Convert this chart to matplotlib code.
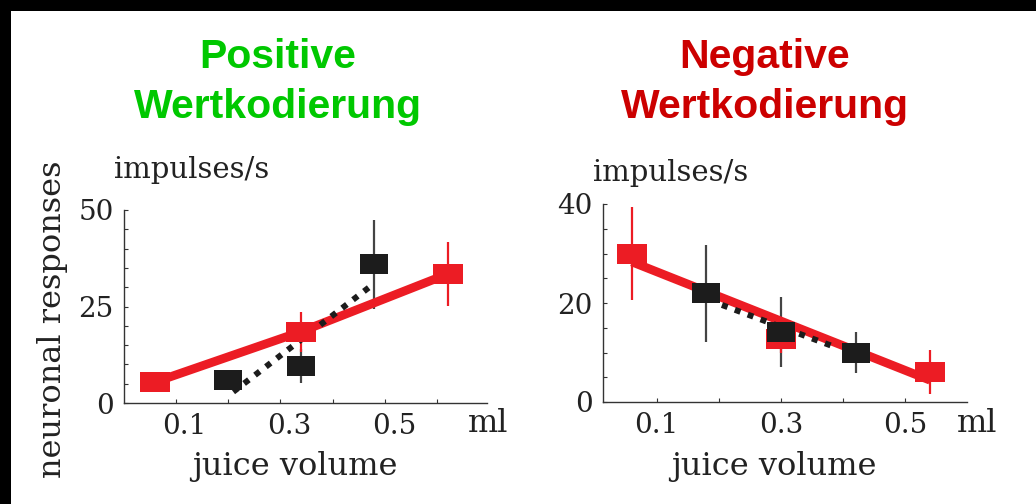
import matplotlib.pyplot as plt
from matplotlib.patches import Rectangle
from matplotlib.transforms import ScaledTranslation

# Datos (impulsos/s frente a volumen de zumo en ml)
# Panel izquierdo: codificación positiva
pos_red_x = [0.06, 0.34, 0.62]
pos_red_y = [5.4, 18.5, 33.4]
pos_red_err = [1.5, 5.2, 8.2]
pos_black_x = [0.20, 0.34, 0.48]
pos_black_y = [6.0, 9.6, 35.9]
pos_black_err = [1.5, 4.5, 11.5]
pos_fit_x = [0.21, 0.48]
pos_fit_y = [2.9, 31.0]

# Panel derecho: codificación negativa
neg_red_x = [0.06, 0.30, 0.54]
neg_red_y = [30.0, 12.8, 6.1]
neg_red_err = [9.3, 3.0, 4.5]
neg_red_fit_x = [0.06, 0.54]
neg_red_fit_y = [28.3, 4.4]
neg_black_x = [0.18, 0.30, 0.42]
neg_black_y = [22.0, 14.2, 10.0]
neg_black_err = [9.8, 7.1, 4.2]
neg_fit_x = [0.205, 0.385]
neg_fit_y = [19.6, 11.2]

pos_xticks = [0.1, 0.2, 0.3, 0.4, 0.5, 0.6]
pos_xlabels = ['0.1', '', '0.3', '', '0.5', '']
neg_xticks = [0.1, 0.2, 0.3, 0.4, 0.5]
neg_xlabels = ['0.1', '', '0.3', '', '0.5']
pos_yticks = [0, 25, 50]
neg_yticks = [0, 20, 40]

RED = '#ec1c24'
BLACK = '#1c1c1c'
W, H = 1036, 504

plt.rcParams['font.family'] = 'DejaVu Serif'

# marcador rectangular (más ancho que alto)
rect = [(-1.4, -1), (1.4, -1), (1.4, 1), (-1.4, 1), (-1.4, -1)]


def fx(px):
    return px / W


def fy(py):
    return 1 - py / H


fig = plt.figure(figsize=(W / 100, H / 100), dpi=100, facecolor='black')
# marco negro arriba y a la izquierda
fig.patches.append(Rectangle((fx(11), 0), 1, 1 - 11 / H, transform=fig.transFigure,
                             facecolor='white', edgecolor='none', zorder=-10))

ax1 = fig.add_axes([fx(123.5), 101 / H, 363.2 / W, 193 / H])
ax2 = fig.add_axes([fx(602.7), 102 / H, 364 / W, 198 / H])


def style(ax, xticks, xlabels, yticks, ystep):
    for s in ['top', 'right']:
        ax.spines[s].set_visible(False)
    for s in ['left', 'bottom']:
        ax.spines[s].set_linewidth(1.0)
        ax.spines[s].set_color('#333333')
    ax.set_xticks(xticks, xlabels)
    ax.set_yticks(yticks)
    ax.set_yticks([v for v in range(0, yticks[-1] + 1, ystep)], minor=True)
    ax.tick_params(which='both', direction='in', length=3, width=0.8,
                   color='#333333', labelsize=20, labelcolor='#222222')
    ax.tick_params(axis='x', pad=7)
    ax.tick_params(axis='y', pad=7)
    ax.set_facecolor('white')


def draw(ax, rx, ry, rerr, lx, ly, bx, by, berr, fx_, fy_):
    ax.errorbar(bx, by, yerr=berr, fmt='none', ecolor='#444444', elinewidth=1.6,
                capsize=0, zorder=1)
    ax.errorbar(rx, ry, yerr=rerr, fmt='none', ecolor=RED, elinewidth=1.6,
                capsize=0, zorder=1)
    ax.plot(lx, ly, color=RED, lw=6.3, solid_capstyle='butt', zorder=2)
    ax.plot(fx_, fy_, color=BLACK, lw=4.3, linestyle=(0, (1, 1.3)),
            dash_capstyle='butt', zorder=3)
    ax.plot(rx, ry, linestyle='none', marker=rect, markersize=21,
            markerfacecolor=RED, markeredgewidth=0, zorder=4)
    ax.plot(bx, by, linestyle='none', marker=rect, markersize=20.5,
            markerfacecolor=BLACK, markeredgewidth=0, zorder=5)


draw(ax1, pos_red_x, pos_red_y, pos_red_err, pos_red_x, pos_red_y,
     pos_black_x, pos_black_y, pos_black_err, pos_fit_x, pos_fit_y)
draw(ax2, neg_red_x, neg_red_y, neg_red_err, neg_red_fit_x, neg_red_fit_y,
     neg_black_x, neg_black_y, neg_black_err, neg_fit_x, neg_fit_y)

style(ax1, pos_xticks, pos_xlabels, pos_yticks, 5)
style(ax2, neg_xticks, neg_xlabels, neg_yticks, 5)
ax1.set_xlim(0, 0.695)
ax1.set_ylim(0, 50)
ax2.set_xlim(0.013, 0.599)
ax2.set_ylim(0, 40)

# en el panel izquierdo las etiquetas están algo desplazadas a la derecha
shift = ScaledTranslation(9 / 100, 0, fig.dpi_scale_trans)
for lab in ax1.get_xticklabels():
    lab.set_transform(lab.get_transform() + shift)

# títulos
fig.text(fx(278), fy(118), 'Positive\nWertkodierung', color='#00c800',
         family='Liberation Sans', weight='bold', size=29.5, ha='center',
         va='baseline', linespacing=1.4)
fig.text(fx(765), fy(118), 'Negative\nWertkodierung', color='#cc0000',
         family='Liberation Sans', weight='bold', size=29.5, ha='center',
         va='baseline', linespacing=1.4)

# textos de los ejes
txt = dict(color='#222222', ha='center', va='center')
fig.text(fx(52), fy(319), 'neuronal responses', rotation=90, size=23, **txt)
fig.text(fx(191.5), fy(170), 'impulses/s', size=21, **txt)
fig.text(fx(671), fy(173), 'impulses/s', size=21, **txt)
fig.text(fx(295), fy(467), 'juice volume', size=23, **txt)
fig.text(fx(774), fy(467), 'juice volume', size=23, **txt)
fig.text(fx(487.7), fy(423), 'ml', size=23, **txt)
fig.text(fx(976.7), fy(423), 'ml', size=23, **txt)

plt.savefig('out.png', dpi=100, facecolor=fig.get_facecolor())
